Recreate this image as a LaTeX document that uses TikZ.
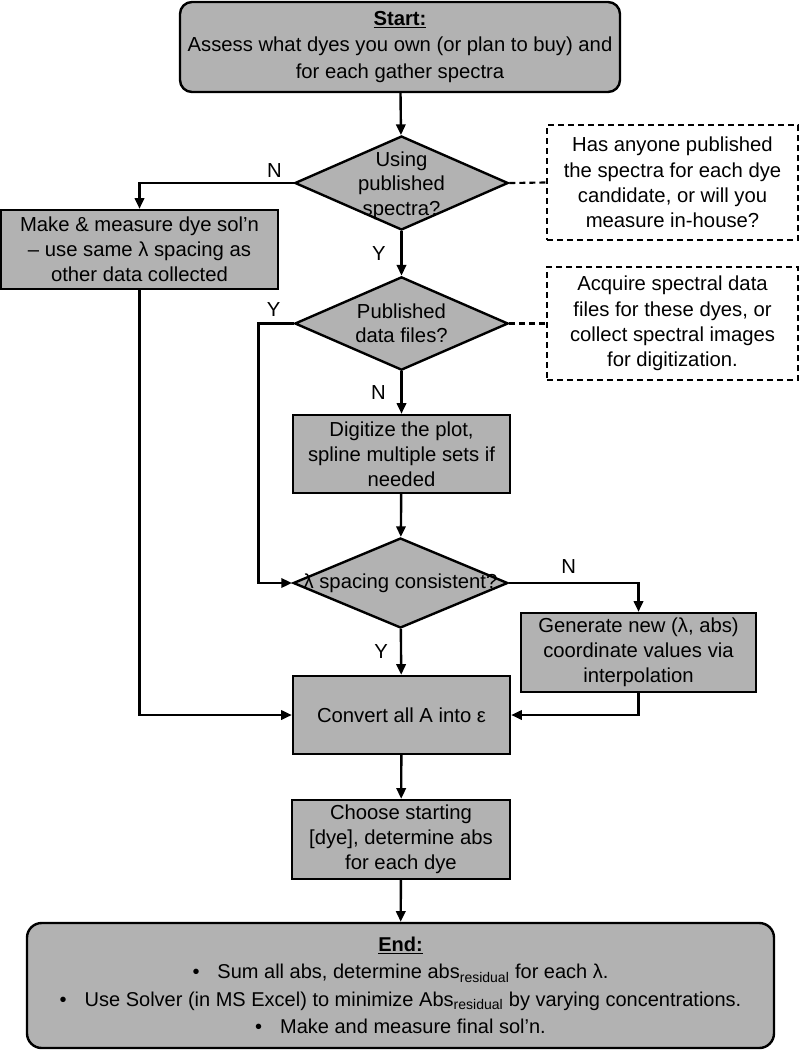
\documentclass[tikz,border=0pt]{standalone}
\usepackage{fontspec}
\setmainfont{Liberation Sans}
\usetikzlibrary{arrows.meta, positioning, shapes.geometric}
\definecolor{boxgray}{RGB}{178,178,178}

\begin{document}
\begin{tikzpicture}[
    x=0.75pt, y=-0.75pt,
    font=\fontsize{15.2}{18.8}\selectfont,
    stepbox/.style={draw, fill=boxgray, line width=1.8pt, align=center, inner sep=2pt},
    termbox/.style={stepbox, rounded corners=9pt},
    notebox/.style={draw, line width=1.6pt, dash pattern=on 4.5pt off 3pt, align=center, font=\fontsize{15.2}{19}\selectfont},
    decision/.style={diamond, draw, fill=boxgray, line width=1.8pt, inner sep=0pt, minimum width=160pt, minimum height=70pt},
    dtxt/.style={align=center, inner sep=0pt, font=\fontsize{15.2}{18.2}\selectfont},
    yn/.style={inner sep=0pt},
    flow/.style={-{Triangle[length=8pt, width=7pt]}, line width=1.8pt},
    link/.style={line width=1.6pt, dash pattern=on 4.5pt off 3pt}
]
    \useasboundingbox (0,0) rectangle (800,1050);

    % main column
    \node[termbox, minimum width=330pt, minimum height=67.5pt, font=\fontsize{15.2}{20}\selectfont] (start) at (400,47)
        {\underline{\textbf{Start:}}\\Assess what dyes you own (or plan to buy) and\\for each gather spectra};
    \node[decision, minimum height=70.5pt, label={[dtxt, yshift=-2pt]center:Using\\published\\spectra?}] (d1) at (401.5,183) {};
    \node[decision, label={[dtxt]center:Published\\data files?}] (d2) at (401.5,323.5) {};
    \node[stepbox, minimum width=162.75pt, minimum height=58.5pt] (dig) at (401.5,454)
        {Digitize the plot,\\spline multiple sets if\\needed};
    \node[decision, minimum width=161pt, minimum height=67.5pt, label={[dtxt]center:λ spacing consistent?}] (d3) at (400.5,583) {};
    \node[stepbox, minimum width=162.75pt, minimum height=58.5pt] (conv) at (401.5,715) {Convert all A into ε};
    \node[stepbox, minimum width=163.5pt, minimum height=59.25pt] (choose) at (401,839.5)
        {Choose starting\\{[dye]}, determine abs\\for each dye};
    \node[termbox, rounded corners=11pt, minimum width=560.25pt, minimum height=93.75pt, font=\fontsize{15}{20.6}\selectfont] (finish) at (400.5,985.5)
        {\underline{\textbf{End:}}\\
         •\hspace{0.9em}Sum all abs, determine abs\textsubscript{residual} for each λ.\\
         •\hspace{0.9em}Use Solver (in MS Excel) to minimize Abs\textsubscript{residual} by varying concentrations.\\
         •\hspace{0.9em}Make and measure final sol’n.};

    % side boxes
    \node[stepbox, minimum width=207.75pt, minimum height=59.25pt] (measure) at (139.5,249.5)
        {Make \& measure dye sol’n\\– use same λ spacing as\\other data collected};
    \node[stepbox, minimum width=176.25pt, minimum height=59.25pt] (gen) at (638.5,652.5)
        {Generate new (λ, abs)\\coordinate values via\\interpolation};
    \node[notebox, minimum width=188.25pt, minimum height=86.25pt] (note1) at (672.5,182.5)
        {Has anyone published\\the spectra for each dye\\candidate, or will you\\measure in-house?};
    \node[notebox, minimum width=188.25pt, minimum height=84.75pt] (note2) at (672.5,323.5)
        {Acquire spectral data\\files for these dyes, or\\collect spectral images\\for digitization.};

    % connectors
    \draw[flow] (start) -- (d1);
    \draw[flow] (d1.west) node[yn, above left=3pt and 8pt] {N} -| (measure.north);
    \draw[flow] (d1) -- node[yn, left=11pt] {Y} (d2);
    \draw[link] (d1.east) -- (note1.west);
    \draw[link] (d2.east) -- (note2.west);
    \draw[flow] (d2.west) node[yn, above left=4.5pt and 9pt] {Y} -- ++(-35,0) |- (d3.west);
    \draw[flow] (d2) -- node[yn, left=11pt] {N} (dig);
    \draw[flow] (dig) -- (d3);
    \draw[flow] (d3.east) -| node[yn, above=6pt, pos=0.23] {N} (gen.north);
    \draw[flow] (d3) -- node[yn, left=9pt] {Y} (conv);
    \draw[flow] (measure.south) |- (conv.west);
    \draw[flow] (gen.south) |- (conv.east);
    \draw[flow] (conv) -- (choose);
    \draw[flow] (choose) -- (finish);
\end{tikzpicture}
\end{document}
